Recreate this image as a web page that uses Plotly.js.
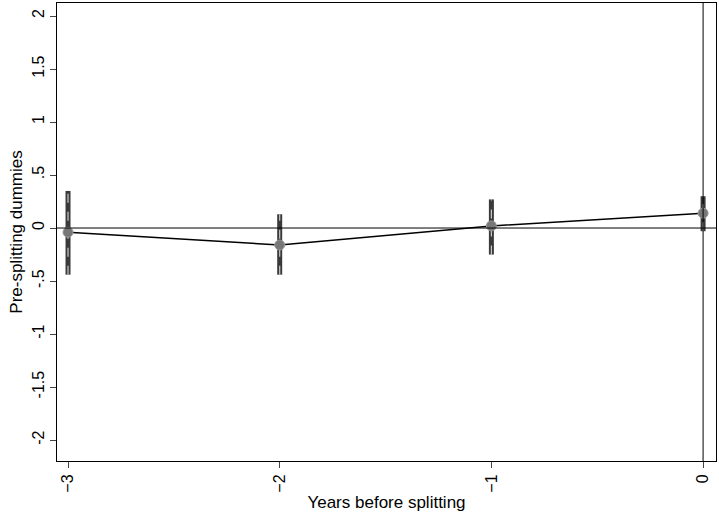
<!DOCTYPE html><html><head><script src="https://cdn.plot.ly/plotly-3.0.1.min.js"></script></head><body style="margin:0"><div id="c" style="width:719px;height:514px"></div><script>
const years=[-3,-2,-1,0];
const coef=[-0.04,-0.16,0.02,0.14];
const lo=[-0.44,-0.44,-0.25,-0.03];
const hi=[0.35,0.13,0.27,0.30];
const yticks=[-2,-1.5,-1,-0.5,0,0.5,1,1.5,2];
const ytext=['-2','-1.5','-1','-.5','0','.5','1','1.5','2'];
const traces=[];
years.forEach((x,i)=>{
 traces.push({x:[x,x],y:[lo[i],hi[i]],mode:'lines',line:{color:'#3a3a3a',width:5},hoverinfo:'skip'});
 traces.push({x:[x,x],y:[lo[i],hi[i]],mode:'lines',line:{color:'#c8c8c8',width:1.2,dash:'dash'},hoverinfo:'skip'});
});
traces.push({x:years,y:coef,mode:'lines+markers',line:{color:'black',width:1.5},marker:{color:'#777',size:10,line:{color:'#999',width:1}}});
Plotly.newPlot('c',traces,{width:719,height:514,showlegend:false,paper_bgcolor:'white',plot_bgcolor:'white',
margin:{l:57,r:3,t:3,b:53},
font:{family:'Liberation Sans, Arial',size:16,color:'black'},
xaxis:{range:[-3.052,0.061],tickvals:years,tickangle:-90,showgrid:false,zeroline:false,showline:true,mirror:true,linecolor:'black',linewidth:1,ticks:'outside',ticklen:6,
 title:{text:'Years before splitting',font:{size:17},standoff:4}},
yaxis:{range:[-2.198,2.123],tickvals:yticks,ticktext:ytext,tickangle:-90,showgrid:false,zeroline:false,showline:true,mirror:true,linecolor:'black',linewidth:1,ticks:'outside',ticklen:6,
 title:{text:'Pre-splitting dummies',font:{size:17},standoff:2}},
shapes:[{type:'line',xref:'paper',x0:0,x1:1,y0:0,y1:0,line:{color:'black',width:1}},
{type:'line',yref:'paper',y0:0,y1:1,x0:0,x1:0,line:{color:'black',width:1}}]
},{displayModeBar:false});
</script></body></html>
